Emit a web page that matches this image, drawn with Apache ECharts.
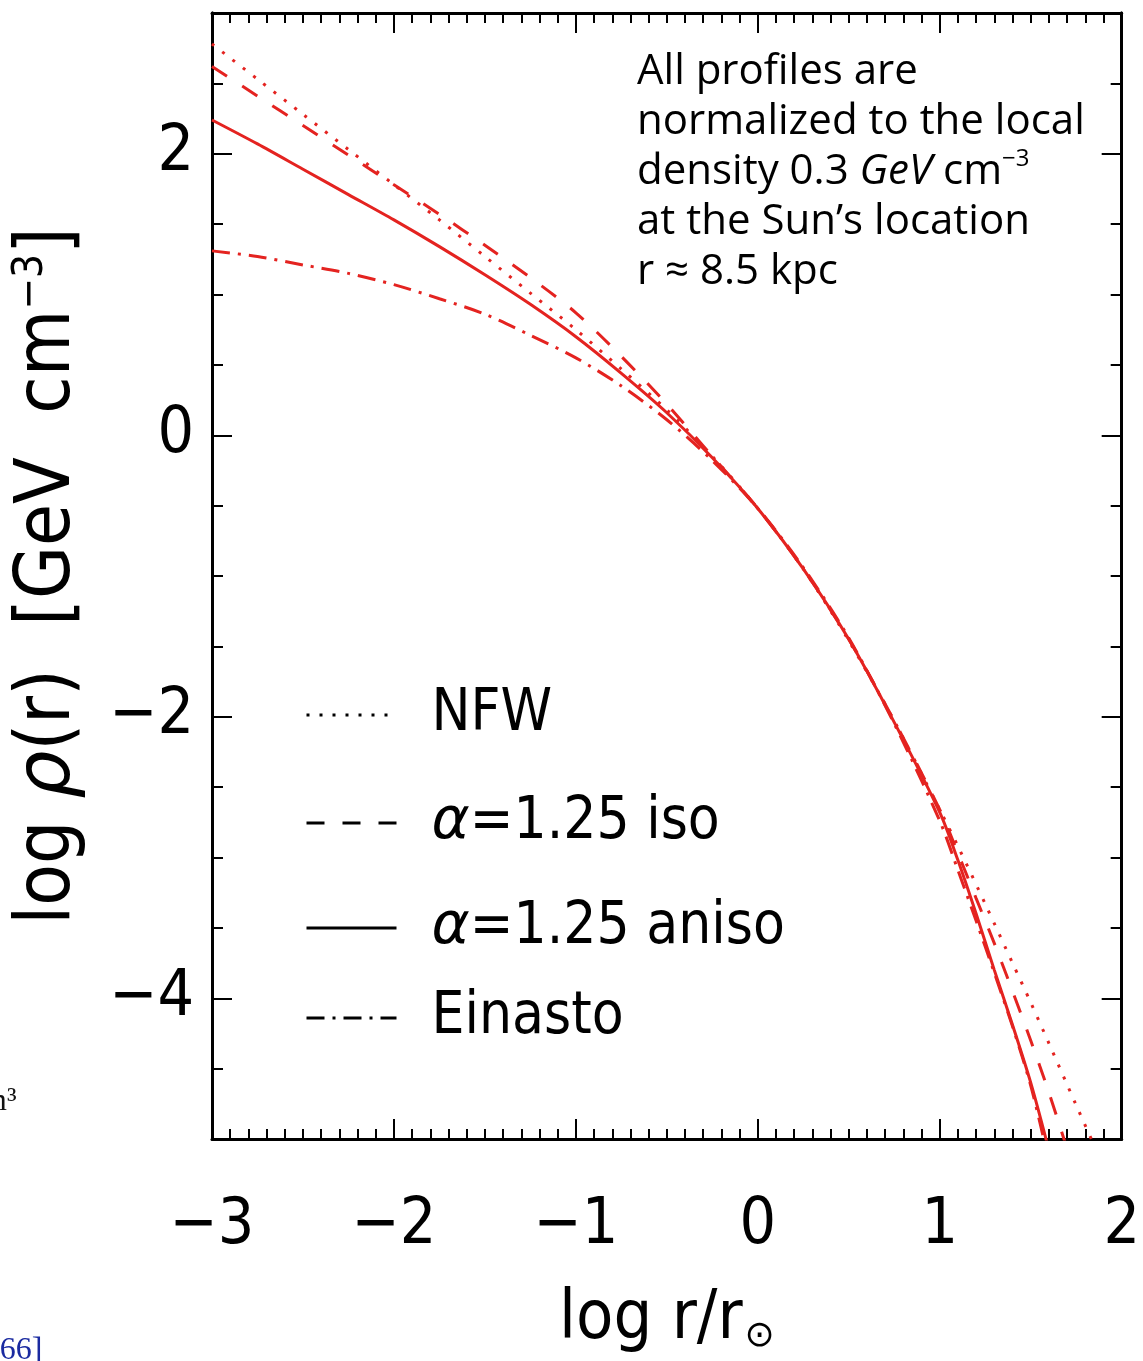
<!DOCTYPE html>
<html><head><meta charset="utf-8">
<script src="https://cdn.jsdelivr.net/npm/echarts@6/dist/echarts.min.js"></script>
<style>html,body{margin:0;padding:0;background:#fff}#c{width:1143px;height:1361px}</style>
</head><body><div id="c"></div>
<script>
// ---- data ----
const xTickValues = [-3, -2, -1, 0, 1, 2];
const yTickValues = [-4, -2, 0, 2];

const nfwX = [-3, -2.75, -2.5, -2.25, -2, -1.75, -1.5, -1.25, -1, -0.75, -0.5, -0.25, 0, 0.25, 0.5, 0.75, 1, 1.1, 1.25, 1.4, 1.5, 1.6, 1.75, 1.84];
const nfwY = [2.78, 2.53, 2.28, 2.03, 1.78, 1.53, 1.27, 1.01, 0.75, 0.47, 0.18, -0.15, -0.52, -0.95, -1.46, -2.03, -2.66, -2.92, -3.33, -3.75, -4.03, -4.32, -4.76, -5.02];

const isoX = [-3, -2.75, -2.5, -2.25, -2, -1.75, -1.5, -1.25, -1, -0.75, -0.5, -0.25, 0, 0.25, 0.5, 0.75, 1, 1.1, 1.2, 1.3, 1.4, 1.5, 1.6, 1.69];
const isoY = [2.62, 2.41, 2.20, 1.99, 1.78, 1.57, 1.35, 1.12, 0.87, 0.56, 0.22, -0.15, -0.52, -0.95, -1.45, -2.03, -2.66, -2.97, -3.29, -3.61, -3.95, -4.30, -4.67, -5.03];

const anisoX = [-3, -2.75, -2.5, -2.25, -2, -1.75, -1.5, -1.25, -1, -0.75, -0.5, -0.25, 0, 0.25, 0.5, 0.75, 1, 1.1, 1.2, 1.3, 1.4, 1.5, 1.59];
const anisoY = [2.24, 2.07, 1.89, 1.71, 1.53, 1.34, 1.14, 0.93, 0.70, 0.44, 0.16, -0.16, -0.52, -0.95, -1.45, -2.04, -2.68, -3.02, -3.40, -3.80, -4.19, -4.60, -5.03];

const einX = [-3, -2.75, -2.5, -2.25, -2, -1.75, -1.5, -1.25, -1, -0.75, -0.5, -0.25, 0, 0.25, 0.5, 0.75, 1, 1.1, 1.2, 1.3, 1.4, 1.5, 1.575];
const einY = [1.31, 1.27, 1.21, 1.15, 1.07, 0.97, 0.86, 0.71, 0.55, 0.35, 0.11, -0.18, -0.52, -0.94, -1.44, -2.05, -2.74, -3.09, -3.45, -3.82, -4.20, -4.62, -5.02];

const seriesNames = ['NFW', '\u03b1=1.25 iso', '\u03b1=1.25 aniso', 'Einasto'];

// ---- chart ----
const AX_FONT = "'DejaVu Sans Condensed','DejaVu Sans',sans-serif";
const NOTE_FONT = "'Comic Sans MS','Open Sans',sans-serif";
const RED = '#e42320';
const fmt = v => (v < 0 ? '\u2212' + Math.abs(v) : String(v));
const pairs = (xs, ys) => xs.map((x, i) => [x, ys[i]]);

const chart = echarts.init(document.getElementById('c'), null, { renderer: 'canvas' });

const frameLine = { show: true, onZero: false, lineStyle: { color: '#000', width: 3 } };
const tickStyle = { color: '#000', width: 2 };

function xAx(pos, labels) {
  return {
    type: 'value', min: -3, max: 2, interval: 1, position: pos,
    axisLine: frameLine,
    axisTick: { show: true, inside: true, length: 20, lineStyle: tickStyle },
    minorTick: { show: true, splitNumber: 10, length: 10, lineStyle: tickStyle },
    splitLine: { show: false }, minorSplitLine: { show: false },
    axisLabel: labels ? { show: true, formatter: fmt, fontSize: 64, color: '#000', margin: 55, fontFamily: AX_FONT } : { show: false },
    name: labels ? 'log r/r{sub|\u2299}' : '',
    nameLocation: 'middle', nameGap: 146,
    nameTextStyle: {
      fontSize: 68, color: '#000', fontFamily: AX_FONT,
      rich: { sub: { fontSize: 36, color: '#000', fontFamily: 'DejaVu Sans', verticalAlign: 'bottom', padding: [34, 0, 0, 2] } }
    }
  };
}
function yMinor(pos, labels) {
  return {
    type: 'value', min: -5, max: 3, interval: 0.5, position: pos,
    axisLine: frameLine,
    axisTick: { show: true, inside: true, length: 11, lineStyle: tickStyle },
    splitLine: { show: false },
    axisLabel: labels ? {
      show: true, fontSize: 64, color: '#000', margin: 18, fontFamily: AX_FONT,
      formatter: v => (Math.abs(v % 2) < 1e-9 && v > -5 && v < 3 ? fmt(v) : '')
    } : { show: false },
    name: labels ? 'log {i|\u03c1}(r)  [GeV  cm{sup|\u22123}]' : '',
    nameLocation: 'middle', nameGap: 124, nameRotate: 90,
    nameTextStyle: {
      fontSize: 76, color: '#000', fontFamily: AX_FONT,
      rich: {
        i: { fontSize: 76, fontStyle: 'italic', color: '#000', fontFamily: 'DejaVu Sans' },
        sup: { fontSize: 42, color: '#000', fontFamily: AX_FONT, verticalAlign: 'top', padding: [0, 0, 36, 0] }
      }
    }
  };
}
function yMajor(pos) {
  return {
    type: 'value', min: -5, max: 3, position: pos,
    axisLine: frameLine,
    axisTick: { show: true, inside: true, length: 20, lineStyle: tickStyle, customValues: yTickValues },
    axisLabel: { show: false },
    splitLine: { show: false }
  };
}

const styles = [
  { type: [3, 10], width: 3 },
  { type: [18, 18], width: 3 },
  { type: 'solid', width: 3 },
  { type: [18, 8, 3, 8], width: 3 }
];
const dataSets = [pairs(nfwX, nfwY), pairs(isoX, isoY), pairs(anisoX, anisoY), pairs(einX, einY)];

const series = seriesNames.map((n, i) => ({
  name: n, type: 'line', xAxisIndex: 0, yAxisIndex: 0,
  data: dataSets[i], symbol: 'none', showSymbol: false, smooth: 0.3, clip: true,
  lineStyle: Object.assign({ color: RED }, styles[i]),
  itemStyle: { color: RED }, z: 3
}));

const legendRowsTop = [686, 794, 899, 989];
const legends = seriesNames.map((n, i) => ({
  data: [n], left: 305, top: legendRowsTop[i], orient: 'vertical', padding: 0,
  itemWidth: 90, itemHeight: 14, selectedMode: false,
  lineStyle: { color: '#000', width: 3 },
  itemStyle: { color: 'rgba(0,0,0,0)', borderWidth: 0, opacity: 0 },
  formatter: s => s.replace('\u03b1', '{i|\u03b1}'),
  textStyle: {
    fontSize: 58, color: '#000', fontFamily: AX_FONT, padding: [0, 0, 0, 30],
    rich: { i: { fontSize: 58, fontStyle: 'italic', color: '#000', fontFamily: 'DejaVu Sans' } }
  }
}));

const option = {
  animation: false,
  backgroundColor: '#fff',
  grid: { left: 212, right: 18, top: 13, bottom: 222, containLabel: false },
  xAxis: [xAx('bottom', true), xAx('top', false)],
  yAxis: [yMinor('left', true), yMajor('left'), yMinor('right', false), yMajor('right')],
  legend: legends,
  series: series,
  graphic: [
    {
      type: 'text', left: 637, top: 47, z: 10,
      style: {
        text: 'All profiles are\nnormalized to the local\ndensity 0.3 {i|GeV} cm{sup|\u22123}\nat the Sun\u2019s location\nr \u2248 8.5 kpc',
        font: "42px " + NOTE_FONT, fill: '#000', lineHeight: 50,
        rich: {
          i: { fontStyle: 'italic', fontSize: 42, fontFamily: NOTE_FONT, lineHeight: 50 },
          sup: { fontSize: 24, fontFamily: NOTE_FONT, verticalAlign: 'top', padding: [0, 0, 18, 0], lineHeight: 50 }
        }
      }
    },
    { type: 'text', left: -18, top: 1086, style: { text: 'm\u00b3', font: "32px 'Liberation Serif',serif", fill: '#111' } },
    { type: 'text', left: -11, top: 1335, style: { text: '[66]', font: "32px 'Liberation Serif',serif", fill: '#1a2aa0' } }
  ]
};
chart.setOption(option);
</script>
</body></html>
